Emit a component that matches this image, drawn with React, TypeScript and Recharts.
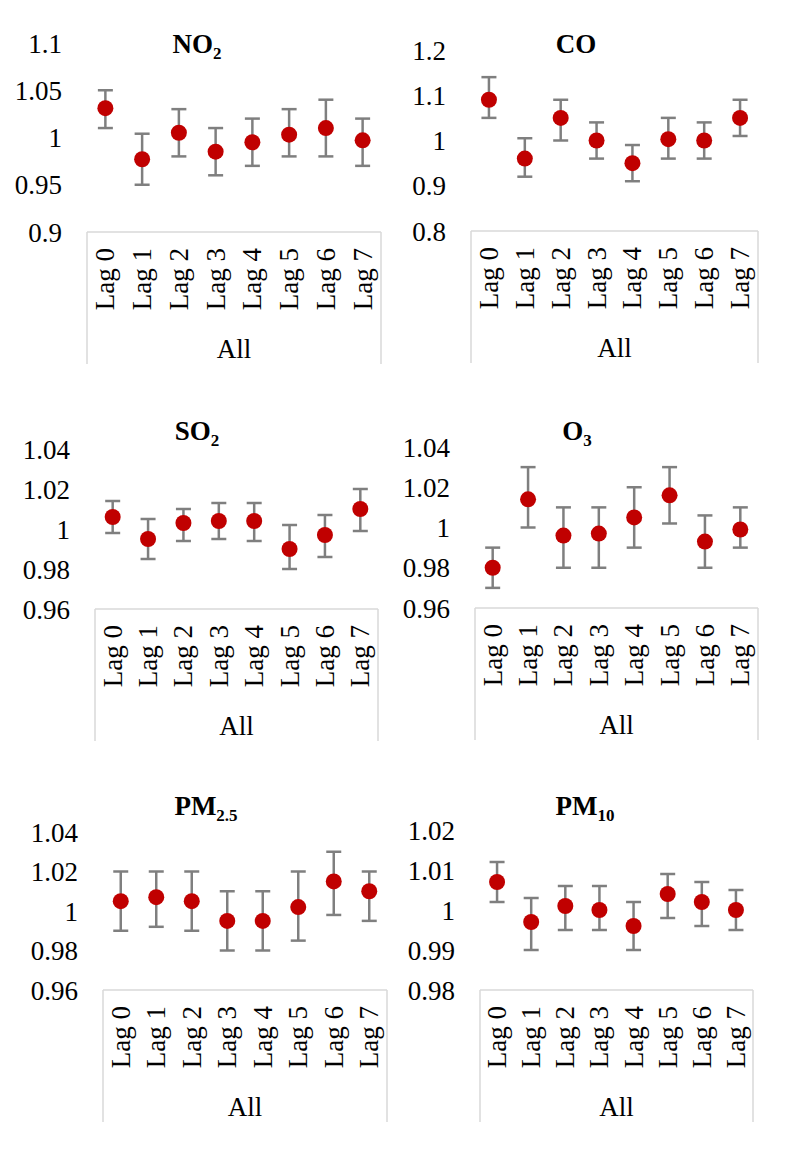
import { ScatterChart, Scatter, XAxis, YAxis, ErrorBar } from "recharts";

const lags = ["Lag 0", "Lag 1", "Lag 2", "Lag 3", "Lag 4", "Lag 5", "Lag 6", "Lag 7"];

const no2Est = [1.031, 0.977, 1.005, 0.985, 0.995, 1.003, 1.01, 0.997];
const no2Low = [1.01, 0.95, 0.98, 0.96, 0.97, 0.98, 0.98, 0.97];
const no2High = [1.05, 1.004, 1.03, 1.01, 1.02, 1.03, 1.04, 1.02];

const coEst = [1.09, 0.96, 1.05, 1.0, 0.95, 1.003, 1.0, 1.05];
const coLow = [1.05, 0.92, 1.0, 0.96, 0.91, 0.96, 0.96, 1.01];
const coHigh = [1.14, 1.005, 1.09, 1.04, 0.99, 1.05, 1.04, 1.09];

const so2Est = [1.006, 0.995, 1.003, 1.004, 1.004, 0.99, 0.997, 1.01];
const so2Low = [0.998, 0.985, 0.994, 0.995, 0.994, 0.98, 0.986, 0.999];
const so2High = [1.014, 1.005, 1.01, 1.013, 1.013, 1.002, 1.007, 1.02];

const o3Est = [0.98, 1.014, 0.996, 0.997, 1.005, 1.016, 0.993, 0.999];
const o3Low = [0.97, 1.0, 0.98, 0.98, 0.99, 1.002, 0.98, 0.99];
const o3High = [0.99, 1.03, 1.01, 1.01, 1.02, 1.03, 1.006, 1.01];

const pm25Est = [1.005, 1.007, 1.005, 0.995, 0.995, 1.002, 1.015, 1.01];
const pm25Low = [0.99, 0.992, 0.99, 0.98, 0.98, 0.985, 0.998, 0.995];
const pm25High = [1.02, 1.02, 1.02, 1.01, 1.01, 1.02, 1.03, 1.02];

const pm10Est = [1.007, 0.997, 1.001, 1.0, 0.996, 1.004, 1.002, 1.0];
const pm10Low = [1.002, 0.99, 0.995, 0.995, 0.99, 0.998, 0.996, 0.995];
const pm10High = [1.012, 1.003, 1.006, 1.006, 1.002, 1.009, 1.007, 1.005];

const no2Ticks = [0.9, 0.95, 1, 1.05, 1.1];
const coTicks = [0.8, 0.9, 1, 1.1, 1.2];
const so2Ticks = [0.96, 0.98, 1, 1.02, 1.04];
const o3Ticks = [0.96, 0.98, 1, 1.02, 1.04];
const pm25Ticks = [0.96, 0.98, 1, 1.02, 1.04];
const pm10Ticks = [0.98, 0.99, 1, 1.01, 1.02];

const FONT = "'Liberation Serif', 'Times New Roman', serif";
const FS = 27;
const Y_AXIS_W = 80;
const TOP_PAD = 20;
const X_AXIS_H = 145;

function buildRows(est: number[], low: number[], high: number[]) {
  return lags.map((lag, i) => ({
    lag,
    est: est[i],
    err: [est[i] - low[i], high[i] - est[i]],
  }));
}

const Dot = (props: any) => {
  if (props.cx == null || props.cy == null) return null;
  return <circle cx={props.cx} cy={props.cy} r={8} fill="#c00000" />;
};

function makeLagTick(step: number) {
  return (props: any) => {
    const { x, y, payload, index } = props;
    return (
      <g>
        <text
          transform={`translate(${x},${y + 16}) rotate(-90)`}
          textAnchor="end"
          dominantBaseline="central"
          fontFamily={FONT}
          fontSize={FS}
          fill="#000"
        >
          {payload.value}
        </text>
        {index === 0 && (
          <>
            <line x1={x - step / 2} y1={y} x2={x - step / 2} y2={y + 132} stroke="#d9d9d9" strokeWidth={1.5} />
            <text
              x={x + 3.5 * step}
              y={y + 117}
              textAnchor="middle"
              dominantBaseline="central"
              fontFamily={FONT}
              fontSize={FS}
              fill="#000"
            >
              All
            </text>
          </>
        )}
        {index === lags.length - 1 && (
          <line x1={x + step / 2} y1={y} x2={x + step / 2} y2={y + 132} stroke="#d9d9d9" strokeWidth={1.5} />
        )}
      </g>
    );
  };
}

type PanelProps = {
  name: string;
  sub: string;
  rows: any[];
  ticks: number[];
  plotLeft: number;
  plotRight: number;
  plotTop: number;
  plotBottom: number;
  titleX: number;
  titleY: number;
};

function Panel(p: PanelProps) {
  const plotW = p.plotRight - p.plotLeft;
  const plotH = p.plotBottom - p.plotTop;
  const width = plotW + Y_AXIS_W + 10;
  const height = plotH + TOP_PAD + X_AXIS_H;
  const step = plotW / lags.length;
  return (
    <>
      <div
        style={{
          position: "absolute",
          left: p.titleX,
          top: p.titleY,
          transform: "translate(-50%, -50%)",
          fontFamily: FONT,
          fontWeight: 700,
          fontSize: FS,
          lineHeight: 1,
          whiteSpace: "nowrap",
          color: "#000",
        }}
      >
        {p.name}
        <span style={{ fontSize: 17, position: "relative", top: 6 }}>{p.sub}</span>
      </div>
      <div
        style={{
          position: "absolute",
          left: p.plotLeft - Y_AXIS_W,
          top: p.plotTop - TOP_PAD,
          fontFamily: FONT,
        }}
      >
        <ScatterChart width={width} height={height} margin={{ top: TOP_PAD, right: 10, bottom: 0, left: 0 }}>
          <XAxis
            dataKey="lag"
            type="category"
            scale="band"
            allowDuplicatedCategory={false}
            interval={0}
            height={X_AXIS_H}
            tickSize={0}
            tickMargin={0}
            tickLine={false}
            axisLine={{ stroke: "#d9d9d9", strokeWidth: 1.5 }}
            tick={makeLagTick(step)}
          />
          <YAxis
            dataKey="est"
            type="number"
            domain={[p.ticks[0], p.ticks[p.ticks.length - 1]]}
            ticks={p.ticks}
            interval={0}
            width={Y_AXIS_W}
            tickSize={0}
            tickMargin={25}
            tickLine={false}
            axisLine={false}
            tick={{ fontFamily: FONT, fontSize: FS, fill: "#000" }}
          />
          <Scatter data={p.rows} dataKey="est" isAnimationActive={false} shape={<Dot />}>
            <ErrorBar dataKey="err" direction="y" width={7.5} stroke="#7f7f7f" strokeWidth={2.5} isAnimationActive={false} />
          </Scatter>
        </ScatterChart>
      </div>
    </>
  );
}

export default function App() {
  return (
    <div
      style={{
        position: "absolute",
        left: 0,
        top: 0,
        width: 786,
        height: 1149,
        background: "#fff",
        overflow: "hidden",
        fontFamily: FONT,
      }}
    >
      <Panel name="NO" sub="2" rows={buildRows(no2Est, no2Low, no2High)} ticks={no2Ticks}
        plotLeft={87} plotRight={381} plotTop={43} plotBottom={232} titleX={197} titleY={44} />
      <Panel name="CO" sub="" rows={buildRows(coEst, coLow, coHigh)} ticks={coTicks}
        plotLeft={471} plotRight={758} plotTop={50} plotBottom={231} titleX={576} titleY={44} />
      <Panel name="SO" sub="2" rows={buildRows(so2Est, so2Low, so2High)} ticks={so2Ticks}
        plotLeft={95} plotRight={378} plotTop={449} plotBottom={609} titleX={197} titleY={431} />
      <Panel name="O" sub="3" rows={buildRows(o3Est, o3Low, o3High)} ticks={o3Ticks}
        plotLeft={475} plotRight={758} plotTop={447} plotBottom={608} titleX={577} titleY={431} />
      <Panel name="PM" sub="2.5" rows={buildRows(pm25Est, pm25Low, pm25High)} ticks={pm25Ticks}
        plotLeft={103} plotRight={387} plotTop={832} plotBottom={990} titleX={206} titleY={806} />
      <Panel name="PM" sub="10" rows={buildRows(pm10Est, pm10Low, pm10High)} ticks={pm10Ticks}
        plotLeft={480} plotRight={753} plotTop={830} plotBottom={990} titleX={585} titleY={806} />
    </div>
  );
}
